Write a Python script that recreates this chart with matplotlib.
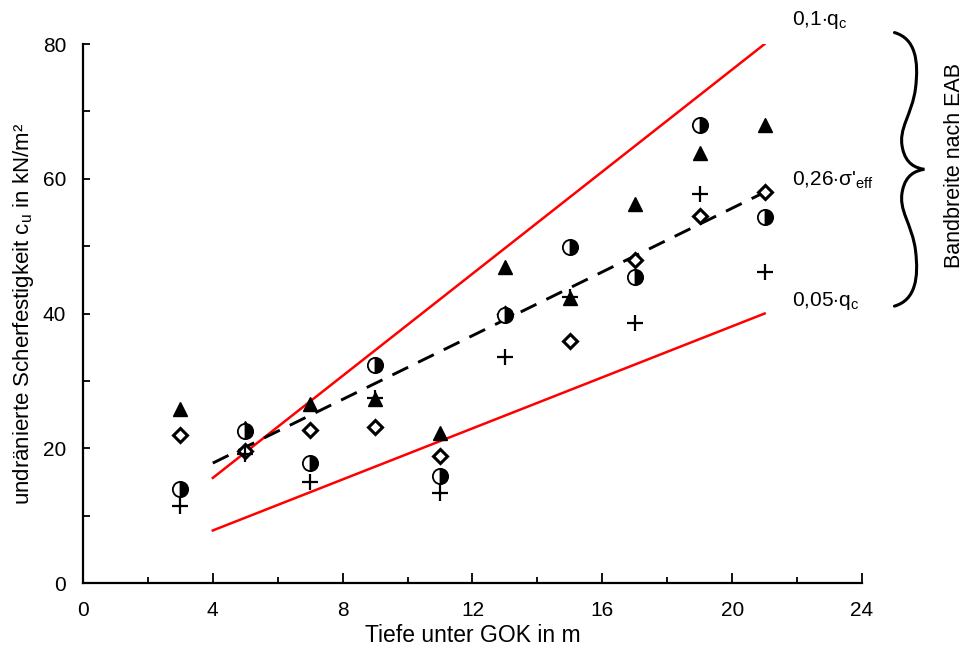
import matplotlib
matplotlib.use("Agg")
import matplotlib.pyplot as plt
from matplotlib.path import Path
import matplotlib.patches as mpatches
from matplotlib.ticker import MultipleLocator

plt.rcParams['font.family'] = ['Liberation Sans', 'DejaVu Sans']
plt.rcParams['mathtext.fontset'] = 'custom'
plt.rcParams['mathtext.rm'] = 'Liberation Sans'
plt.rcParams['mathtext.it'] = 'Liberation Sans:italic'

# Tiefe unter GOK in m
depth = [3, 5, 7, 9, 11, 13, 15, 17, 19, 21]

# undränierte Scherfestigkeit cu in kN/m² je Versuchsreihe
cu_triangle = [25.8, 23.0, 26.6, 27.3, 22.3, 46.9, 42.3, 56.2, 63.8, 68.0]
cu_halfcircle = [13.9, 22.5, 17.8, 32.4, 15.9, 39.8, 49.9, 45.4, 68.0, 54.3]
cu_diamond = [22.0, 19.6, 22.7, 23.1, 18.9, 40.0, 35.9, 47.9, 54.5, 58.0]
cu_plus = [11.5, 19.1, 15.0, 27.5, 13.4, 33.6, 42.5, 38.6, 57.7, 46.1]

# Bandbreite nach EAB: Geraden für 0,1·qc, 0,05·qc und 0,26·σ'eff
line_depth = [4, 21]
cu_qc_010 = [15.6, 80.0]
cu_qc_005 = [7.8, 40.0]
cu_sigma = [17.8, 58.0]

fig = plt.figure(figsize=(9.68, 6.57), dpi=100)
ax = fig.add_axes([0.0857, 0.1126, 0.8048, 0.8204])

ax.plot(line_depth, cu_qc_010, color='#ff0000', lw=1.8, zorder=2)
ax.plot(line_depth, cu_qc_005, color='#ff0000', lw=1.8, zorder=2)
ax.plot(line_depth, cu_sigma, color='black', lw=2.1, dashes=(6, 3.8), zorder=2)

ax.plot(depth, cu_triangle, linestyle='none', marker='^', markersize=10,
        color='black', zorder=3)
ax.plot(depth, cu_diamond, linestyle='none', marker='D', markersize=7,
        markerfacecolor='white', markeredgecolor='black', markeredgewidth=2.2, zorder=3)
ax.plot(depth, cu_halfcircle, linestyle='none', marker='o', markersize=11,
        fillstyle='right', markerfacecolor='black', markerfacecoloralt='white',
        markeredgecolor='black', markeredgewidth=1.3, zorder=4)
ax.plot(depth, cu_plus, linestyle='none', marker='+', markersize=12,
        color='black', markeredgewidth=1.6, zorder=4)

ax.set_xlim(0, 24)
ax.set_ylim(0, 80)
ax.xaxis.set_major_locator(MultipleLocator(4))
ax.xaxis.set_minor_locator(MultipleLocator(2))
ax.yaxis.set_major_locator(MultipleLocator(20))
ax.yaxis.set_minor_locator(MultipleLocator(10))

for side in ('top', 'right'):
    ax.spines[side].set_visible(False)
for side in ('left', 'bottom'):
    ax.spines[side].set_linewidth(1.6)

ax.tick_params(which='both', direction='in', width=1.3, labelsize=15, colors='black')
ax.tick_params(axis='x', which='major', length=7, pad=13)
ax.tick_params(axis='x', which='minor', length=4.5)
ax.tick_params(axis='y', which='both', length=5, pad=12)

ax.set_xlabel('Tiefe unter GOK in m', fontsize=16.5, labelpad=3)
ax.set_ylabel('undränierte Scherfestigkeit c$_\\mathrm{u}$ in kN/m²', fontsize=16, labelpad=5)

# Beschriftung der Geraden
ax.text(21.85, 81.9, '0,1$\\cdot$q$_\\mathrm{c}$', fontsize=15, ha='left', va='bottom', clip_on=False)
ax.text(21.85, 59.8, "0,26$\\cdot$σ'$_\\mathrm{eff}$", fontsize=15, ha='left', va='center', clip_on=False)
ax.text(21.85, 41.8, '0,05$\\cdot$q$_\\mathrm{c}$', fontsize=15, ha='left', va='center', clip_on=False)

# geschweifte Klammer für die Bandbreite
upper = [(25.00, 81.7), (25.65, 80.8), (25.75, 77.5), (25.65, 73.5),
         (25.55, 69.5), (25.10, 67.5), (25.25, 64.5),
         (25.35, 62.2), (25.65, 61.6), (25.92, 61.4)]
lower = [(x, 2 * 61.4 - y) for x, y in reversed(upper[:-1])]
verts = upper + lower
codes = [Path.MOVETO] + [Path.CURVE4] * 18
brace = mpatches.PathPatch(Path(verts, codes), facecolor='none', edgecolor='black',
                           lw=2.2, clip_on=False, capstyle='round')
ax.add_patch(brace)

ax.text(26.85, 62.0, 'Bandbreite nach EAB', fontsize=15.5, rotation=90,
        ha='center', va='center', clip_on=False)

fig.savefig('out.png', dpi=100)
